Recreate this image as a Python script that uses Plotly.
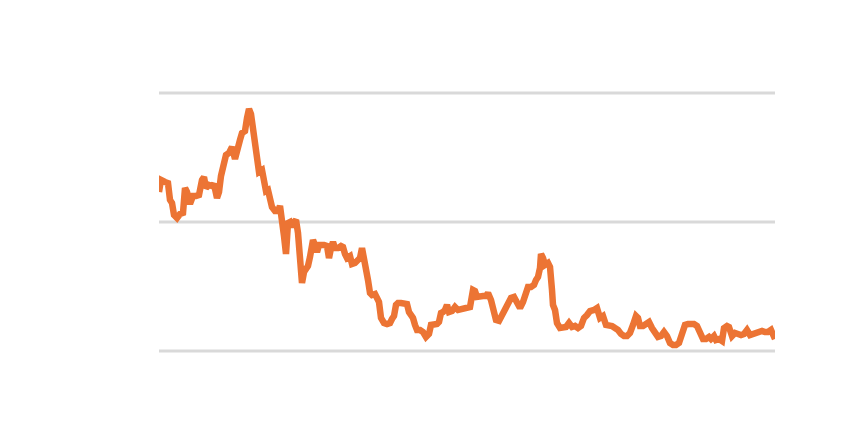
import plotly.graph_objects as go

days = [0, 2, 6, 9, 11, 13, 15, 18, 21, 24, 26, 28, 31, 34, 37, 40, 43, 45, 47, 50, 53, 55, 58, 60,
        62, 64, 67, 70, 73, 76, 78, 81, 83, 86, 88, 90, 92, 94, 96, 98, 100, 103, 105, 107, 109, 111,
        113, 116, 119, 121, 123, 125, 127, 129, 131, 133, 135, 137, 139, 141, 143, 145, 147, 149, 151,
        154, 156, 158, 160, 163, 165, 168, 170, 172, 174, 176, 179, 182, 184, 186, 188, 191, 193, 196,
        199, 201, 203, 205, 207, 209, 211, 213, 216, 218, 220, 222, 225, 228, 231, 233, 235, 237, 239,
        242, 245, 248, 250, 252, 254, 256, 258, 261, 264, 267, 270, 272, 275, 278, 280, 282, 284, 286,
        288, 290, 293, 296, 299, 302, 305, 308, 311, 314, 316, 318, 321, 324, 327, 329, 332, 335, 337,
        340, 343, 346, 349, 352, 355, 358, 361, 364, 367, 369, 372, 375, 377, 379, 381, 382, 384, 386,
        389, 391, 393, 394, 396, 398, 401, 404, 407, 410, 413, 416, 419, 422, 425, 428, 431, 435, 438,
        441, 444, 447, 450, 453, 456, 459, 462, 465, 468, 471, 474, 477, 479, 481, 484, 487, 490, 493,
        496, 499, 502, 505, 508, 511, 514, 517, 520, 523, 526, 529, 532, 535, 538, 541, 544, 547, 550,
        552, 555, 557, 560, 563, 565, 568, 570, 573, 576, 579, 582, 585, 588, 591, 594, 597, 600, 603,
        606, 609, 612, 614, 616]

values = [12.33, 13.26, 13.10, 13.02, 11.71, 11.47, 10.54, 10.31, 10.62, 10.70, 12.64, 12.33, 11.40,
          12.02, 12.02, 12.09, 13.26, 13.49, 12.64, 12.87, 12.79, 12.95, 11.86, 12.33, 13.57, 14.42,
          15.19, 15.35, 15.81, 14.88, 15.66, 16.36, 16.90, 17.05, 18.06, 18.76, 18.37, 17.13, 15.58,
          14.19, 13.88, 14.03, 13.26, 12.40, 12.48, 11.63, 11.16, 10.85, 10.85, 11.24, 10.31, 8.91,
          7.52, 9.92, 10.00, 9.61, 10.00, 10.16, 9.15, 7.36, 5.27, 6.12, 6.28, 6.59, 7.29, 8.60, 8.22,
          7.67, 8.22, 8.29, 8.22, 8.14, 7.21, 7.98, 8.45, 7.98, 7.98, 8.14, 8.06, 7.52, 7.21, 7.36,
          6.74, 6.82, 6.98, 7.21, 7.98, 7.29, 6.43, 5.50, 4.50, 4.34, 4.42, 4.03, 3.80, 2.56, 2.17,
          2.09, 2.17, 2.48, 2.71, 3.57, 3.72, 3.72, 3.72, 3.64, 3.02, 2.87, 2.56, 2.02, 1.63, 1.63,
          1.47, 1.09, 1.32, 2.02, 2.02, 2.09, 2.25, 2.95, 3.02, 3.18, 3.57, 3.02, 3.10, 3.41, 3.18,
          3.26, 3.26, 3.33, 3.41, 4.73, 4.65, 4.19, 4.26, 4.26, 4.26, 4.50, 3.95, 3.18, 2.40, 2.33,
          2.79, 3.33, 3.72, 4.11, 4.19, 3.80, 3.33, 3.80, 4.57, 4.96, 4.96, 5.12, 5.50, 5.74, 6.43,
          7.52, 7.21, 6.67, 6.82, 6.51, 4.73, 3.57, 3.18, 2.17, 1.78, 1.78, 1.86, 2.17, 1.86, 1.94,
          1.78, 1.94, 2.56, 2.79, 3.10, 3.18, 3.33, 2.56, 2.71, 2.02, 2.02, 1.94, 1.78, 1.63, 1.32,
          1.16, 1.16, 1.40, 2.02, 2.71, 2.56, 1.94, 1.94, 2.09, 2.25, 1.78, 1.40, 1.09, 1.16, 1.47,
          1.16, 0.62, 0.47, 0.47, 0.62, 1.32, 2.02, 2.09, 2.09, 2.09, 1.94, 1.32, 0.93, 0.93, 1.09,
          0.93, 1.16, 0.85, 0.93, 0.78, 1.78, 1.94, 1.86, 1.16, 1.40, 1.32, 1.24, 1.32, 1.63, 1.24,
          1.32, 1.32, 1.47, 1.55, 1.47, 1.47, 1.63, 1.32, 0.93]

grid_values = [0, 10, 20]

fig = go.Figure(go.Scatter(
    x=days, y=values, mode="lines",
    line=dict(color="#EC7434", width=6.5),
    hoverinfo="skip",
    cliponaxis=False,
))

for g in grid_values:
    fig.add_shape(type="line", xref="paper", x0=0, x1=1, yref="y", y0=g, y1=g,
                  line=dict(color="#d9d9d9", width=3), layer="below")

fig.update_layout(
    width=853, height=435,
    margin=dict(l=151, r=86, t=80, b=87),
    paper_bgcolor="white", plot_bgcolor="white",
    showlegend=False,
    xaxis=dict(range=[days[0], days[-1]], showgrid=False, zeroline=False,
               showticklabels=False, showline=False, ticks=""),
    yaxis=dict(range=[-0.3876, 20.3876], showgrid=False, zeroline=False,
               showticklabels=False, showline=False, ticks=""),
)

fig.write_html("out.html")
